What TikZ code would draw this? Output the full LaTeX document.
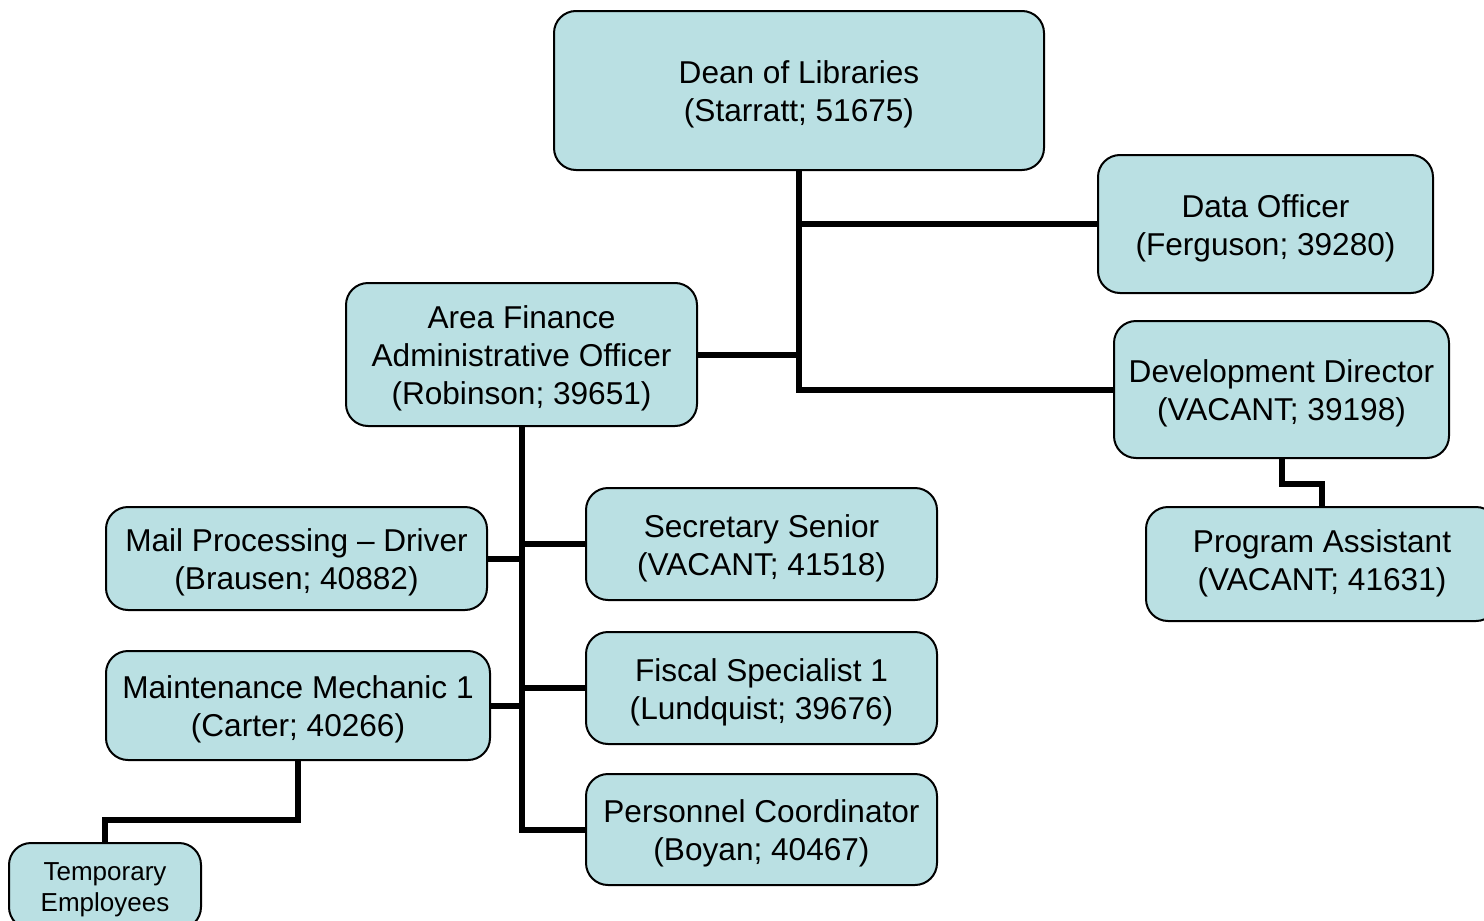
\documentclass[tikz,border=0pt]{standalone}
\usepackage{fontspec}
\setmainfont{Liberation Sans}
\definecolor{boxblue}{RGB}{186,224,227}

\begin{document}
\begin{tikzpicture}[x=0.5pt, y=-0.5pt,
    box/.style={draw=black, line width=1pt, fill=boxblue, rounded corners=11pt,
        align=center, inner sep=0pt, font=\fontsize{15.8}{19}\selectfont,
        text height=34.5pt},
    conn/.style={line width=3pt}]
            \useasboundingbox (0,0) rectangle (1484,921);
            \node[box, minimum width=245pt, minimum height=79.5pt] (dean) at (799,90.5) {Dean of Libraries\\(Starratt; 51675)};
            \node[box, minimum width=167.5pt, minimum height=69pt] (data) at (1265.5,224) {Data Officer\\(Ferguson; 39280)};
            \node[box, minimum width=167.5pt, minimum height=68.5pt] (dev) at (1281.5,389.5) {Development Director\\(VACANT; 39198)};
            \node[box, minimum width=176pt, minimum height=57pt, text height=29.5pt] (prog) at (1322,564) {Program Assistant\\(VACANT; 41631)};
            \node[box, minimum width=175.5pt, minimum height=71.5pt, text height=53.5pt] (afo) at (521.5,354.5) {Area Finance\\Administrative Officer\\(Robinson; 39651)};
            \node[box, minimum width=190.5pt, minimum height=51.5pt] (mail) at (296.5,558.5) {Mail Processing – Driver\\(Brausen; 40882)};
            \node[box, minimum width=192pt, minimum height=54.5pt] (maint) at (298,705.5) {Maintenance Mechanic 1\\(Carter; 40266)};
            \node[box, minimum width=96pt, minimum height=43pt, font=\fontsize{13}{15.5}\selectfont,
                text height=28pt] (temp) at (105,886) {Temporary\\Employees};
            \node[box, minimum width=175.5pt, minimum height=56pt] (sec) at (761.5,544) {Secretary Senior\\(VACANT; 41518)};
            \node[box, minimum width=175.5pt, minimum height=56pt] (fis) at (761.5,688) {Fiscal Specialist 1\\(Lundquist; 39676)};
            \node[box, minimum width=175.5pt, minimum height=55.5pt] (pers) at (761.5,829.5) {Personnel Coordinator\\(Boyan; 40467)};

            \draw[conn] (dean.south) -- (dean.south |- dev.west) -- (dev.west);
            \draw[conn] (dean.south |- data.west) -- (data.west);
            \draw[conn] (afo.east) -- (afo.east -| dean.south);
            \draw[conn] (dev.south) -- ++(0,25) -| (prog.north);
            \draw[conn] (afo.south) |- (pers.west);
            \draw[conn] (afo.south |- sec.west) -- (sec.west);
            \draw[conn] (afo.south |- fis.west) -- (fis.west);
            \draw[conn] (mail.east) -- (mail.east -| afo.south);
            \draw[conn] (maint.east) -- (maint.east -| afo.south);
            \draw[conn] (maint.south) -- ++(0,59) -| (temp.north);
        \end{tikzpicture}
\end{document}
